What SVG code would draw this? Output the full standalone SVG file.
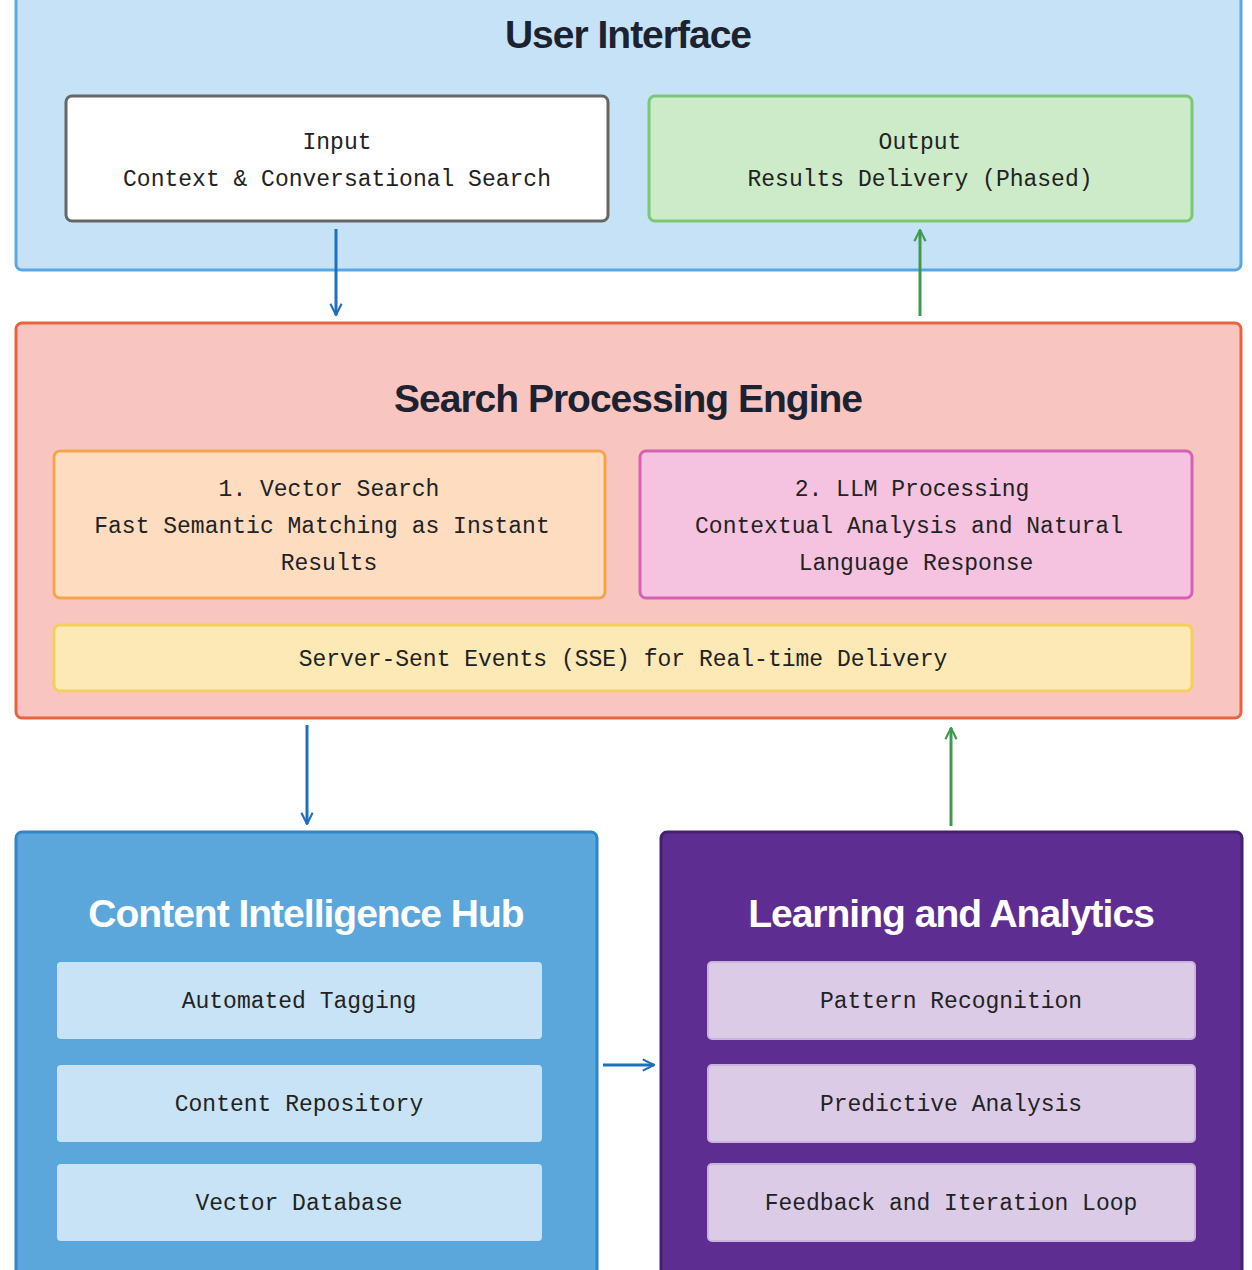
<svg xmlns="http://www.w3.org/2000/svg" width="1252" height="1270" viewBox="0 0 1252 1270">
<defs>
<marker id="ab" viewBox="0 0 20 20" refX="18" refY="10" markerWidth="14" markerHeight="14" markerUnits="userSpaceOnUse" orient="auto"><path d="M2,2 L18,10 L2,18" fill="none" stroke="#1f6fbf" stroke-width="3"/></marker>
<marker id="ag" viewBox="0 0 20 20" refX="18" refY="10" markerWidth="14" markerHeight="14" markerUnits="userSpaceOnUse" orient="auto"><path d="M2,2 L18,10 L2,18" fill="none" stroke="#3f9a4e" stroke-width="3"/></marker>
</defs>
<style>
.t{font-family:"Liberation Sans",Arial,sans-serif;font-weight:bold;font-size:39px;text-anchor:middle;letter-spacing:-1px}
.m{font-family:"Liberation Mono","DejaVu Sans Mono",monospace;font-size:23px;text-anchor:middle;fill:#222}
.b{stroke:#1f6fbf;stroke-width:3;fill:none;marker-end:url(#ab)}
.g{stroke:#3f9a4e;stroke-width:3;fill:none;marker-end:url(#ag)}
</style>
<rect width="1252" height="1270" fill="#fff"/>
<g id="ui">
<rect x="16" y="-10" width="1225" height="280" rx="6" fill="#c5e2f6" stroke="#5aa7e3" stroke-width="3"/>
<text class="t" x="628" y="48" fill="#1c2230">User Interface</text>
</g>
<g id="input"><rect x="66" y="96" width="542" height="125" rx="6" fill="#fff" stroke="#666" stroke-width="3"/>
<text class="m" x="337" y="149">Input</text><text class="m" x="337" y="186">Context &amp; Conversational Search</text></g>
<g id="output"><rect x="649" y="96" width="543" height="125" rx="6" fill="#cdebc9" stroke="#7cc774" stroke-width="3"/>
<text class="m" x="920" y="149">Output</text><text class="m" x="920" y="186">Results Delivery (Phased)</text></g>
<g id="spe"><rect x="16" y="323" width="1225" height="395" rx="6" fill="#f9c5c0" stroke="#e8643f" stroke-width="3"/>
<text class="t" x="628" y="412" fill="#1c2230">Search Processing Engine</text></g>
<g id="vector"><rect x="54" y="451" width="551" height="147" rx="6" fill="#fddcc0" stroke="#f4a54c" stroke-width="3"/>
<text class="m" x="329" y="496">1. Vector Search</text><text class="m" x="322" y="533">Fast Semantic Matching as Instant</text><text class="m" x="329" y="570">Results</text></g>
<g id="llm"><rect x="640" y="451" width="552" height="147" rx="6" fill="#f5c2e0" stroke="#d660b4" stroke-width="3"/>
<text class="m" x="912" y="496">2. LLM Processing</text><text class="m" x="909" y="533">Contextual Analysis and Natural</text><text class="m" x="916" y="570">Language Response</text></g>
<g id="sse"><rect x="54" y="625" width="1138" height="66" rx="6" fill="#fde9b5" stroke="#f5cf5e" stroke-width="3"/>
<text class="m" x="623" y="666">Server-Sent Events (SSE) for Real-time Delivery</text></g>
<g id="cih"><rect x="16" y="832" width="581" height="450" rx="6" fill="#5ba7dc" stroke="#2f86c8" stroke-width="3"/>
<text class="t" x="306" y="927" fill="#fff">Content Intelligence Hub</text>
<rect x="57" y="962" width="485" height="77" rx="4" fill="#c8e2f6"/><text class="m" x="299" y="1008">Automated Tagging</text>
<rect x="57" y="1065" width="485" height="77" rx="4" fill="#c8e2f6"/><text class="m" x="299" y="1111">Content Repository</text>
<rect x="57" y="1164" width="485" height="77" rx="4" fill="#c8e2f6"/><text class="m" x="299" y="1210">Vector Database</text></g>
<g id="la"><rect x="661" y="832" width="581" height="450" rx="6" fill="#5e2d91" stroke="#46206f" stroke-width="3"/>
<text class="t" x="951" y="927" fill="#fff">Learning and Analytics</text>
<rect x="708" y="962" width="487" height="77" rx="4" fill="#dccbe7" stroke="#c9b3da" stroke-width="2"/><text class="m" x="951" y="1008">Pattern Recognition</text>
<rect x="708" y="1065" width="487" height="77" rx="4" fill="#dccbe7" stroke="#c9b3da" stroke-width="2"/><text class="m" x="951" y="1111">Predictive Analysis</text>
<rect x="708" y="1164" width="487" height="77" rx="4" fill="#dccbe7" stroke="#c9b3da" stroke-width="2"/><text class="m" x="951" y="1210">Feedback and Iteration Loop</text></g>
<g id="connectors">
<line class="b" x1="336" y1="229" x2="336" y2="315"/>
<line class="g" x1="920" y1="316" x2="920" y2="230"/>
<line class="b" x1="307" y1="725" x2="307" y2="824"/>
<line class="g" x1="951" y1="826" x2="951" y2="728"/>
<line class="b" x1="603" y1="1065" x2="654" y2="1065"/>
</g>
</svg>
